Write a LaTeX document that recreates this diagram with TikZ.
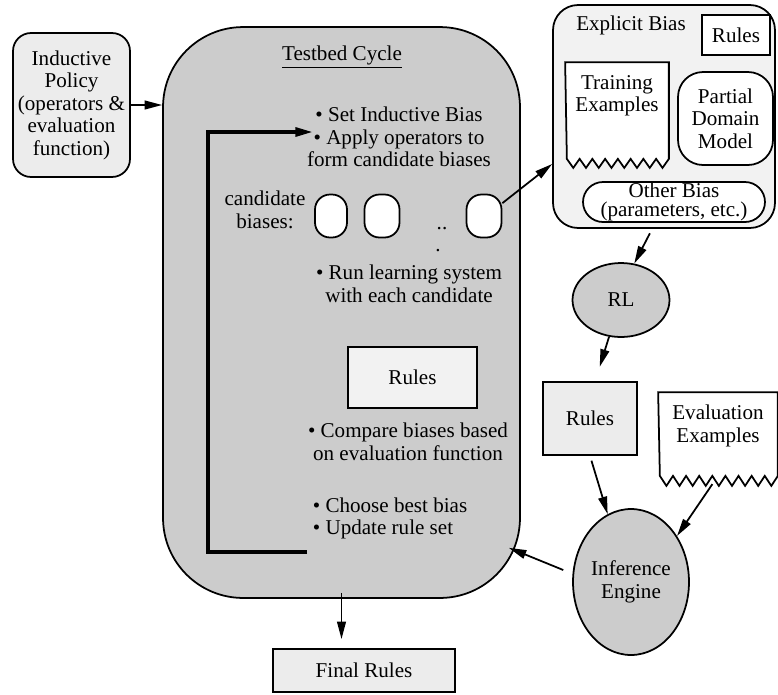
\documentclass[tikz,border=0pt]{standalone}
\usepackage{fontspec}
\setmainfont{Liberation Serif}
\usetikzlibrary{arrows.meta,shapes.geometric}

\begin{document}
\begin{tikzpicture}[x=0.02cm,y=-0.02cm,line width=1pt,font=\fontsize{12}{12.8}\selectfont]
			\tikzset{b/.style={draw,rectangle,inner sep=0pt,align=center},
				rb/.style={b,rounded corners=#1},
				e/.style={draw,ellipse,inner sep=0pt,align=center,fill=gray!40},
				t/.style={inner sep=0pt,align=center},
				a/.style={-{Triangle[length=10pt,width=5pt]}}}
			\useasboundingbox(0,0)rectangle(778,694);
			%%Testbed Cycle
			\path(341.5,312.5)node[rb=1.6cm,fill=gray!40,minimum width=7.14cm,minimum height=11.42cm](cycle){};
			\path(342,57)node[t](title){\underline{Testbed Cycle}};
			\path(399,137)node[t](set){• Set Inductive Bias\\• Apply operators to\\form candidate biases};
			\path(265,210)node[t](candlbl){candidate\\biases:};
			\foreach \n/\x/\w in {1/331/0.64,2/382/0.7,3/484/0.7}
			\path(\x,216)node[rb=0.3cm,fill=white,minimum width=\w cm,minimum height=0.86cm](cand\n){};
			\path(442,229)node[t,anchor=base](dots){..}(438,251)node[t,anchor=base](dot){.};
			\path(409,284)node[t](run){• Run learning system\\with each candidate};
			\path(412.5,377.5)node[b,fill=gray!10,minimum width=2.58cm,minimum height=1.22cm](rules){Rules};
			\path(408,442)node[t](cmp){• Compare biases based\\on evaluation function};
			\path(312,518.5)node[t,align=left,anchor=west](choose){• Choose best bias\\• Update rule set};
			\path(313,132)coordinate(loopin)(307,552)coordinate(loopout);
			\draw[a,line width=2pt](loopout)--++(-99,0)|-(loopin);
			%%Policy
			\path(71.5,105)node[rb=0.36cm,fill=gray!15,minimum width=2.34cm,minimum height=2.88cm](policy){Inductive\\Policy\\(operators \&\\evaluation\\function)};
			%%Explicit Bias
			\path(664,116.5)node[rb=0.5cm,fill=gray!10,minimum width=4.44cm,minimum height=4.46cm](explicit){};
			\path(631,25)node[t](exlbl){Explicit Bias};
			\path(736,35)node[b,fill=white,minimum width=1.36cm,minimum height=0.8cm](exrules){Rules};
			\path(617,110.5)node[inner sep=0pt,minimum width=2.04cm,minimum height=1.9cm](train){};
			\draw[fill=white](train.north west)--(train.north east)--(train.south east)
				\foreach \i in {1,...,8}{--++(-6.375,9)--++(-6.375,-9)}--cycle;
			\path(617,96)node[t](trainlbl){Training\\Examples};
			\path(725.5,118.5)node[rb=0.5cm,fill=white,minimum width=1.9cm,minimum height=1.86cm](domain){Partial\\Domain\\Model};
			\path(674,202)node[rb=0.4cm,fill=white,minimum width=3.64cm,minimum height=0.8cm,font=\fontsize{12}{11}\selectfont](other){Other Bias\\(parameters, etc.)};
			%%Learning and evaluation
			\path(621,300)node[e,minimum width=1.94cm,minimum height=1.48cm](rl){RL};
			\path(590,418.5)node[b,fill=gray!15,minimum width=1.88cm,minimum height=1.46cm](learned){Rules};
			\path(718,434)node[inner sep=0pt,minimum width=2.36cm,minimum height=1.64cm](evalbox){};
			\draw[fill=white](evalbox.north west)--(evalbox.north east)--(evalbox.south east)
				\foreach \i in {1,...,9}{--++(-6.556,10)--++(-6.556,-10)}--cycle;
			\path(718,426)node[t](evallbl){Evaluation\\Examples};
			\path(631,582)node[e,minimum width=2.32cm,minimum height=2.92cm](inf){Inference\\Engine};
			\path(364,670.5)node[b,fill=gray!15,minimum width=3.64cm,minimum height=0.86cm](final){Final Rules};
			\path(cycle.south east)++(-12,-51)coordinate(hit);
			%%Arrows
			\draw[a](policy.east)--(policy.east-|cycle.west);
			\foreach \x/\y/\p/\q in {
				cand3.35/explicit.203/0/0,
				explicit.264/rl.70/0.1/0,
				rl.252/learned.82/0/0.3,
				learned.south/inf.109/0.1/0,
				evalbox.south/inf.45/0.2/0,
				inf.172/hit/0.2/0}
			\draw[a,shorten <=\p cm,shorten >=\q cm](\x)--(\y);
			\draw[a,shorten >=0.18cm]([yshift=0.12cm]cycle.south)--(cycle.south|-final.north);
		\end{tikzpicture}
\end{document}
